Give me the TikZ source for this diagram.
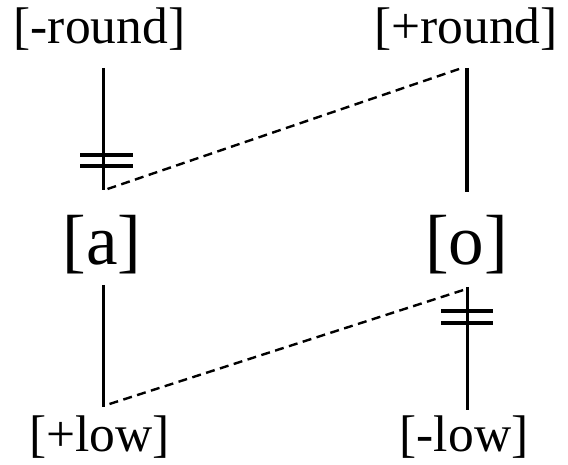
\documentclass[tikz,border=0pt]{standalone}
\usepackage{fontspec}
\setmainfont{Liberation Serif}
\begin{document}
\begin{tikzpicture}[x=1pt,y=-1pt,
  feat/.style={inner sep=0pt,font=\fontsize{51.5}{58}\selectfont},
  seg/.style={inner sep=0pt,font=\fontsize{71}{80}\selectfont},
  assoc/.style={line width=3.6pt},
  newassoc/.style={line width=2.4pt,dash pattern=on 9pt off 5.5pt},
  delink/.style={line width=4.6pt}]
\useasboundingbox (0,0) rectangle (568,465);
% text nodes
\node[feat] (mround) at (99.5,29.5) {[-round]};
\node[feat] (pround) at (466,29.5) {[+round]};
\node[seg] (a) at (102,244.5) {[a]};
\node[seg] (o) at (466.5,244.5) {[o]};
\node[feat] (plow) at (99.5,437.5) {[+low]};
\node[feat] (mlow) at (464,437.5) {[-low]};
% line ends
\coordinate (mroundB) at (103.5,68);
\coordinate (aT) at (103.5,190);
\coordinate (proundB) at (467,68);
\coordinate (oT) at (467,192);
\coordinate (aB) at (103.5,285);
\coordinate (plowT) at (103.5,407);
\coordinate (oB) at (467.5,287);
\coordinate (mlowT) at (467.5,410);
% associations
\draw[assoc] (mroundB) -- (aT);
\draw[assoc] (proundB) -- (oT);
\draw[assoc] (aB) -- (plowT);
\draw[assoc] (oB) -- (mlowT);
% delinking bars
\draw[delink] (80,155) -- (133,155);
\draw[delink] (80,166) -- (133,166);
\draw[delink] (441,311) -- (493,311);
\draw[delink] (441,323) -- (493,323);
% new (dashed) associations
\draw[newassoc] (aT) ++(4,-1) -- ([xshift=-5pt]proundB);
\draw[newassoc] (plowT) ++(6,-3) -- ([xshift=-1pt,yshift=-2pt]oB);
\end{tikzpicture}
\end{document}
